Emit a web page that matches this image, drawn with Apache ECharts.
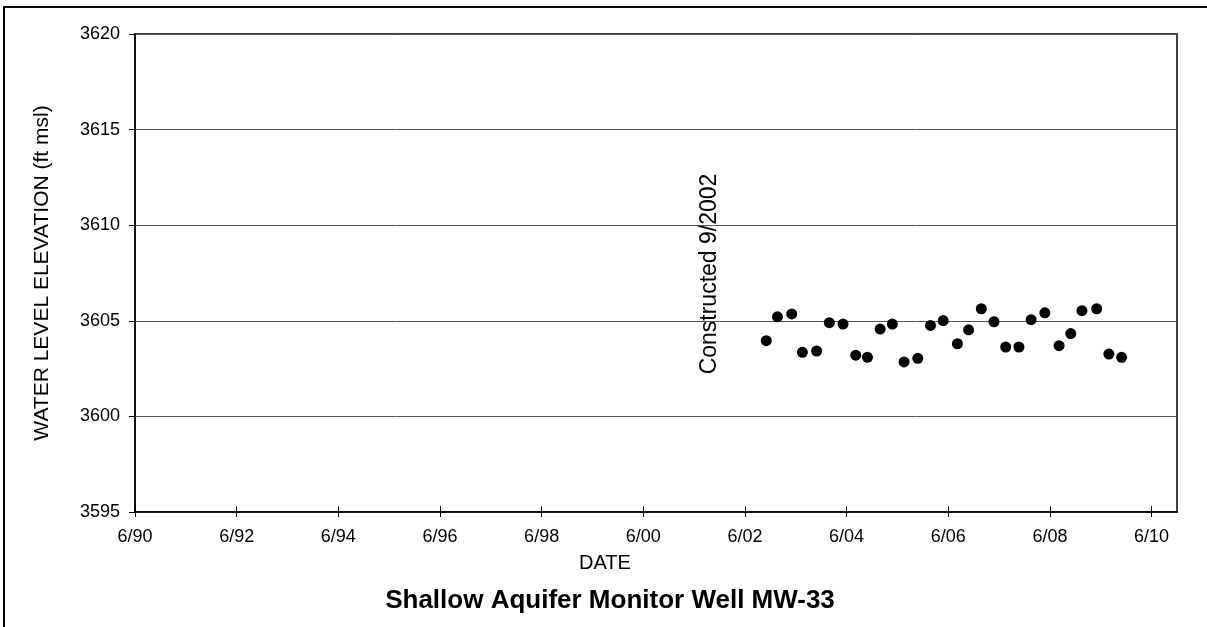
<!DOCTYPE html>
<html>
<head>
<meta charset="utf-8">
<script src="https://cdn.jsdelivr.net/npm/echarts@6/dist/echarts.min.js"></script>
<style>
  html, body { margin: 0; padding: 0; background: #fff; }
  #chart { width: 1207px; height: 627px; }
</style>
</head>
<body>
<div id="chart"></div>
<script>
// sample dates as decimal years
const sampleDates = [
  2002.92, 2003.14, 2003.42, 2003.63, 2003.91, 2004.16, 2004.43, 2004.68,
  2004.91, 2005.16, 2005.40, 2005.63, 2005.90, 2006.15, 2006.40, 2006.68,
  2006.90, 2007.15, 2007.40, 2007.63, 2007.89, 2008.13, 2008.40, 2008.68,
  2008.91, 2009.13, 2009.42, 2009.66, 2009.91
];
const waterLevels = [
  3603.96, 3605.21, 3605.36, 3603.35, 3603.42, 3604.90, 3604.83, 3603.20,
  3603.09, 3604.57, 3604.83, 3602.85, 3603.04, 3604.76, 3605.01, 3603.80,
  3604.53, 3605.63, 3604.95, 3603.63, 3603.63, 3605.06, 3605.42, 3603.70,
  3604.33, 3605.53, 3605.63, 3603.26, 3603.09
];
const xTickValues = [1990.5, 1992.5, 1994.5, 1996.5, 1998.5, 2000.5, 2002.5, 2004.5, 2006.5, 2008.5, 2010.5];
const xTickLabels = ['6/90', '6/92', '6/94', '6/96', '6/98', '6/00', '6/02', '6/04', '6/06', '6/08', '6/10'];

const font = 'Liberation Sans, Arial, sans-serif';
const chart = echarts.init(document.getElementById('chart'));

const labelFor = v => {
  const i = xTickValues.findIndex(t => Math.abs(t - v) < 1e-6);
  return i >= 0 ? xTickLabels[i] : '';
};

chart.setOption({
  animation: false,
  backgroundColor: '#fff',
  textStyle: { fontFamily: font },
  title: {
    text: 'Shallow Aquifer Monitor Well MW-33',
    left: 605,
    top: 583,
    textAlign: 'center',
    textStyle: { fontFamily: font, fontSize: 26, fontWeight: 'bold', color: '#000' }
  },
  grid: {
    left: 135, top: 34, right: 30, bottom: 115,
    show: true, borderColor: '#000', borderWidth: 1.5, backgroundColor: '#fff'
  },
  xAxis: [
    {
      type: 'value', min: 1990.5, max: 2011.0,
      axisLine: { show: true, onZero: false, lineStyle: { color: '#000', width: 1.5 } },
      axisTick: { show: true, customValues: xTickValues, length: 5, lineStyle: { color: '#000' } },
      axisLabel: {
        customValues: xTickValues, formatter: labelFor, margin: 16,
        fontFamily: font, fontSize: 18, color: '#000'
      },
      splitLine: { show: false }
    },
    {
      type: 'value', min: 1990.5, max: 2011.0, position: 'bottom',
      axisLine: { show: false },
      axisTick: { show: true, inside: true, customValues: xTickValues, length: 6, lineStyle: { color: '#000' } },
      axisLabel: { show: false },
      splitLine: { show: false }
    }
  ],
  yAxis: {
    type: 'value', min: 3595, max: 3620, interval: 5,
    name: 'WATER LEVEL ELEVATION (ft msl)',
    nameLocation: 'middle', nameGap: 82, nameRotate: 90,
    nameTextStyle: { fontFamily: font, fontSize: 21, color: '#000' },
    axisLine: { show: true, lineStyle: { color: '#000', width: 1.5 } },
    axisTick: { show: true, length: 6, lineStyle: { color: '#000' } },
    axisLabel: { margin: 15, formatter: v => String(v), fontFamily: font, fontSize: 18, color: '#000' },
    splitLine: { show: true, lineStyle: { color: '#555', width: 1 } }
  },
  graphic: [
    {
      type: 'rect', silent: true, z: -1,
      shape: { x: 4, y: 7, width: 1230, height: 650 },
      style: { fill: null, stroke: '#000', lineWidth: 2 }
    },
    {
      type: 'text', x: 605, y: 563,
      style: { text: 'DATE', fontFamily: font, fontSize: 20, fill: '#000', align: 'center', verticalAlign: 'middle' }
    },
    {
      type: 'text', x: 710, y: 274, rotation: Math.PI / 2,
      style: { text: 'Constructed 9/2002', fontFamily: font, fontSize: 23, fill: '#000', align: 'center', verticalAlign: 'middle' }
    }
  ],
  series: [{
    type: 'scatter',
    symbol: 'circle',
    symbolSize: 11,
    itemStyle: { color: '#000', opacity: 1 },
    data: sampleDates.map((d, i) => [d, waterLevels[i]])
  }]
});
</script>
</body>
</html>
